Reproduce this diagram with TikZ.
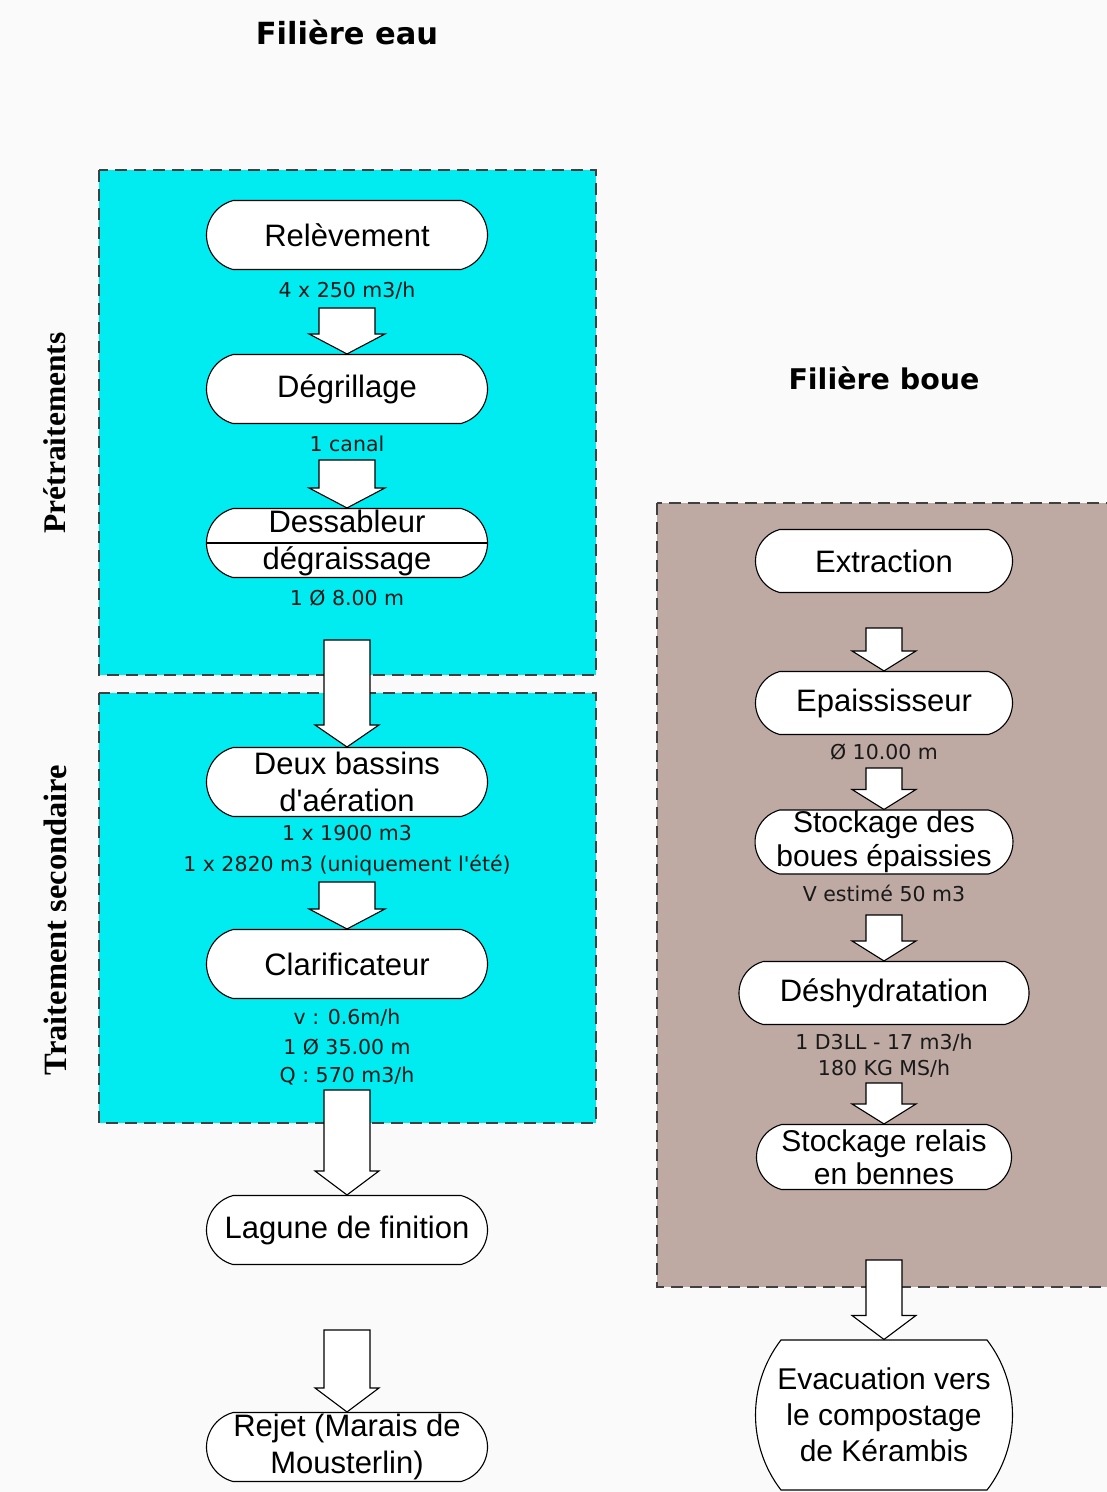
\documentclass[tikz,border=0pt]{standalone}
\usepackage{fontspec}
\setmainfont{Liberation Sans}
\newfontfamily\legende{DejaVu Sans}
\newfontfamily\cotefont{Liberation Serif}
\usetikzlibrary{shapes.misc,calc}

\definecolor{cyaneau}{RGB}{0,236,240}
\definecolor{brunboue}{RGB}{190,169,163}

% fleche bloc : queue, pointe, demi-fut, demi-tete, longueur de tete
\newcommand{\flecheBloc}[5]{%
  \draw[bloc] ($(#2|-#1)+(-#3,0)$) -- ($(#2|-#1)+(#3,0)$) -- ($(#2)+(#3,-#5)$)
    -- ($(#2)+(#4,-#5)$) -- (#2) -- ($(#2)+(-#4,-#5)$) -- ($(#2)+(-#3,-#5)$) -- cycle;}

\begin{document}
\begin{tikzpicture}[x=1pt, y=-1pt]

    % estilos
    \tikzstyle{etape}=[rounded rectangle, rounded rectangle arc length=150, draw, fill=white,
      line width=1.1pt, minimum width=281, minimum height=69, inner sep=0pt, align=center,
      font=\fontsize{31}{37}\selectfont]
    \tikzstyle{cote}=[font=\legende\fontsize{20.5}{23}\selectfont, text=black!90, inner sep=0pt]
    \tikzstyle{cadre}=[draw=black!75, dash pattern=on 12pt off 7pt, line width=1.4pt]
    \tikzstyle{bloc}=[draw, fill=white, line width=1.1pt, line join=miter]
    \tikzstyle{titre}=[font=\legende\bfseries\fontsize{29}{32}\selectfont]
    \tikzstyle{phase}=[font=\cotefont\bfseries\fontsize{32.5}{34}\selectfont, rotate=90]

    \useasboundingbox (0,0) rectangle (1107,1492);
    \fill[white!98!black] (0,0) rectangle (1107,1492);

    %======================= FILIERE EAU =======================
    \node[titre, font=\legende\bfseries\fontsize{30.5}{32}\selectfont] (teau) at (347,33) {Filière eau};

    % cadres
    \draw[cadre, fill=cyaneau] (99,170) rectangle (596,675);
    \draw[cadre, fill=cyaneau] (99,693) rectangle (596,1123);
    \node[phase, font=\cotefont\bfseries\fontsize{31.5}{34}\selectfont] (pretr) at (55,433) {Prétraitements};
    \node[phase] (secon) at (55,920) {Traitement secondaire};

    % etapes
    \node[etape] (rel) at (347,235)  {Relèvement};
    \node[etape] (deg) at (347,389)  {Dégrillage};
    \node[etape] (des) at (347,543)  {Dessableur\\dégraissage};
    \draw[line width=1.1pt] (des.west) -- (des.east);
    \node[etape] (aer) at (347,782)  {Deux bassins\\d\textquotesingle aération};
    \node[etape] (cla) at (347,964)  {Clarificateur};
    \node[etape] (lag) at (347,1230) {Lagune de finition};
    \node[etape] (rej) at (347,1447) {Rejet (Marais de\\Mousterlin)};

    % cotes
    \node[cote] (c1) at (347,291)  {4 x 250 m3/h};
    \node[cote] (c2) at (347,444)  {1 canal};
    \node[cote] (c3) at (347,598)  {1 Ø 8.00 m};
    \node[cote] (c4) at (347,833)  {1 x 1900 m3};
    \node[cote] (c5) at (347,865)  {1 x 2820 m3 (uniquement l\textquotesingle été)};
    \node[cote] (c6) at (347,1018) {v : 0.6m/h};
    \node[cote] (c7) at (347,1047) {1 Ø 35.00 m};
    \node[cote] (c8) at (347,1076) {Q : 570 m3/h};

    % fleches
    \coordinate (q1) at (347,308);
    \coordinate (q2) at (347,460);
    \coordinate (q3) at (347,640);
    \coordinate (q4) at (347,882);
    \coordinate (q5) at (347,1090);
    \coordinate (q6) at (347,1330);
    \flecheBloc{q1}{deg.north}{28}{38}{20}
    \flecheBloc{q2}{des.north}{28}{38}{20}
    \flecheBloc{q3}{aer.north}{23}{32}{22}
    \flecheBloc{q4}{cla.north}{28}{38}{20}
    \flecheBloc{q5}{lag.north}{23}{32}{24}
    \flecheBloc{q6}{rej.north}{23}{32}{24}

    %======================= FILIERE BOUE =======================
    \node[titre, font=\legende\bfseries\fontsize{28.5}{32}\selectfont] (tboue) at (884,378) {Filière boue};

    \draw[cadre, fill=brunboue] (657,503) rectangle (1120,1287);

    % etapes
    \node[etape, minimum width=257, minimum height=63] (ext) at (884,561) {Extraction};
    \node[etape, minimum width=257, minimum height=63] (epa) at (884,703) {Epaississeur};
    \node[etape, minimum width=255, minimum height=64,
          font=\fontsize{30}{34}\selectfont] (sto) at (884,842) {Stockage des\\boues épaissies};
    \node[etape, minimum width=290, minimum height=63] (deshy) at (884,993) {Déshydratation};
    \node[etape, minimum width=255, minimum height=65,
          font=\fontsize{30}{33}\selectfont] (ben) at (884,1157) {Stockage relais\\en bennes};
    \node[etape, minimum width=257, minimum height=150, rounded rectangle arc length=75,
          font=\fontsize{30}{36}\selectfont] (evac) at (884,1415)
          {Evacuation vers\\le compostage\\de Kérambis};

    % cotes
    \node[cote] (d1) at (884,752)  {Ø 10.00 m};
    \node[cote] (d2) at (884,893)  {V estimé 50 m3};
    \node[cote] (d3) at (884,1043) {1 D3LL - 17 m3/h};
    \node[cote] (d4) at (884,1069) {180 KG MS/h};

    % fleches
    \coordinate (r1) at (884,628);
    \coordinate (r2) at (884,768);
    \coordinate (r3) at (884,915);
    \coordinate (r4) at (884,1083);
    \coordinate (r5) at (884,1260);
    \flecheBloc{r1}{epa.north}{18}{32}{20}
    \flecheBloc{r2}{sto.north}{18}{32}{20}
    \flecheBloc{r3}{deshy.north}{18}{32}{20}
    \flecheBloc{r4}{ben.north}{18}{32}{20}
    \flecheBloc{r5}{evac.north}{18}{32}{24}

\end{tikzpicture}
\end{document}
